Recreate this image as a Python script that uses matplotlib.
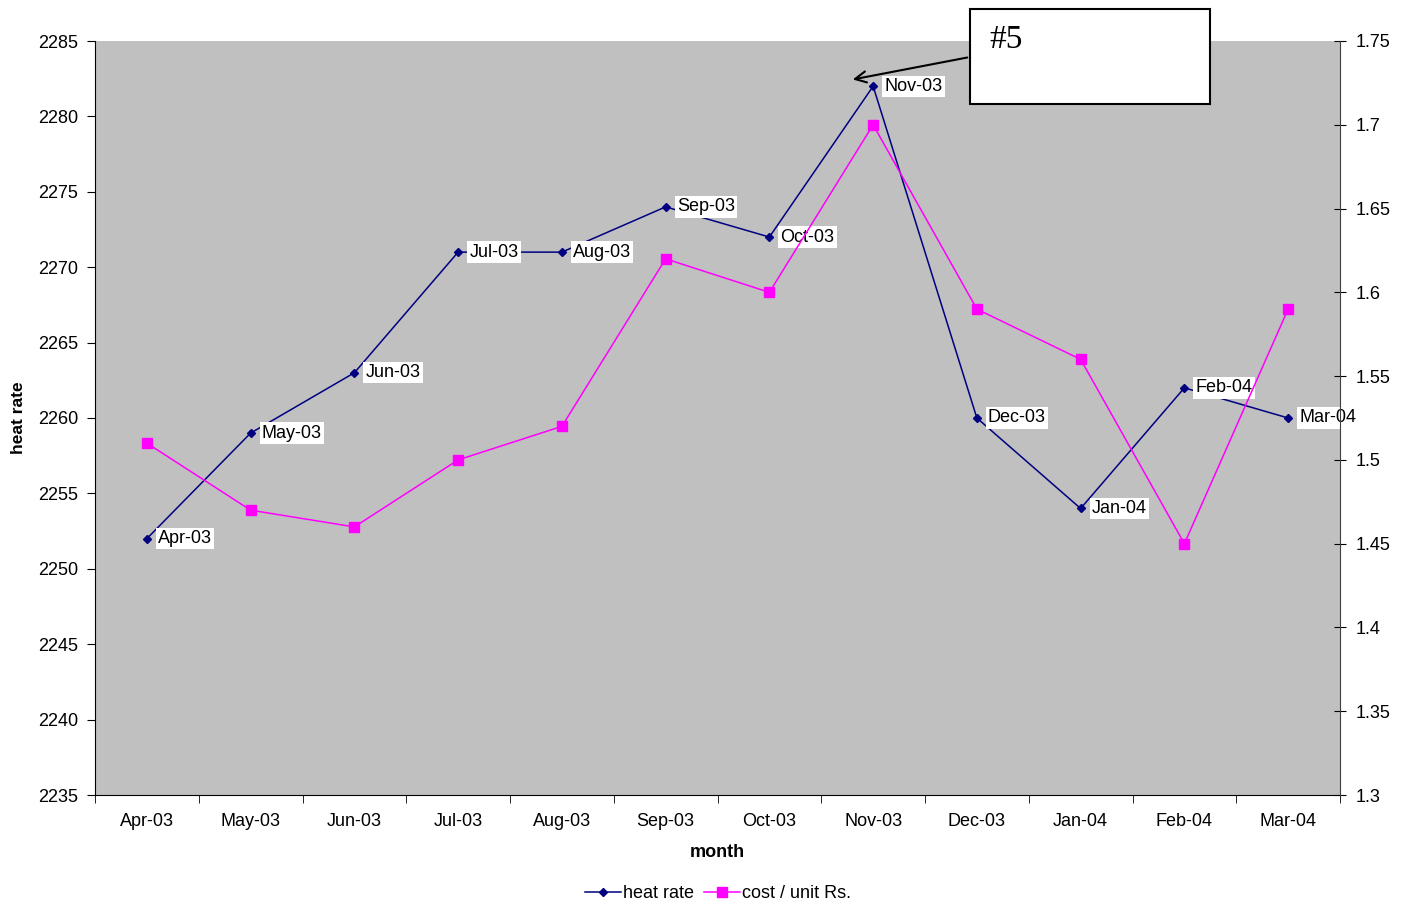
import numpy as np
import matplotlib
matplotlib.use("Agg")
import matplotlib.pyplot as plt
from matplotlib.patches import Rectangle

plt.rcParams['font.family'] = ['Liberation Sans', 'DejaVu Sans']

# data
months = ['Apr-03', 'May-03', 'Jun-03', 'Jul-03', 'Aug-03', 'Sep-03',
          'Oct-03', 'Nov-03', 'Dec-03', 'Jan-04', 'Feb-04', 'Mar-04']
heat_rate = [2252, 2259, 2263, 2271, 2271, 2274, 2272, 2282, 2260, 2254, 2262, 2260]
cost_unit = [1.51, 1.47, 1.46, 1.50, 1.52, 1.62, 1.60, 1.70, 1.59, 1.56, 1.45, 1.59]

fig = plt.figure(figsize=(14.09, 9.07), dpi=100)
ax = fig.add_axes([95 / 1409, 1 - 795 / 907, 1245 / 1409, 754 / 907])
ax.set_facecolor('#C0C0C0')
x = np.arange(len(months))

l1, = ax.plot(x, heat_rate, color='#000080', lw=1.1, marker='D', ms=4.5,
              label='heat rate', zorder=3)
ax.set_xlim(-0.5, len(months) - 0.5)
ax.set_ylim(2235, 2285)
ax.set_yticks(np.arange(2235, 2286, 5))
ax.set_xticks(x)
ax.set_xticklabels(months)
ax.set_xticks(np.arange(-0.5, len(months), 1), minor=True)
ax.tick_params(axis='x', which='major', length=0, pad=13, labelsize=13)
ax.tick_params(axis='x', which='minor', length=6, direction='out')
ax.tick_params(axis='y', length=6, direction='out', labelsize=13, pad=6)
ax.spines['top'].set_visible(False)
ax.spines['right'].set_visible(False)

for xi, yi, lab in zip(x, heat_rate, months):
    ax.annotate(lab, (xi, yi), xytext=(8, 0), textcoords='offset points',
                ha='left', va='center', fontsize=13, zorder=4,
                bbox=dict(fc='white', ec='none', pad=1.5))

ax2 = ax.twinx()
l2, = ax2.plot(x, cost_unit, color='#FF00FF', lw=1.1, marker='s', ms=6.5,
               label='cost / unit Rs.', zorder=3)
ax2.set_ylim(1.3, 1.75)
ax2.set_yticks(np.arange(1.3, 1.751, 0.05))
ax2.set_yticklabels(['1.3', '1.35', '1.4', '1.45', '1.5', '1.55', '1.6',
                     '1.65', '1.7', '1.75'])
ax2.tick_params(axis='y', length=8, direction='inout', labelsize=13, pad=7)
ax2.spines['top'].set_visible(False)
ax2.spines['left'].set_visible(False)
ax2.spines['bottom'].set_visible(False)
ax2.spines['right'].set_color('#404040')

ax.set_ylabel('heat rate', fontweight='bold', fontsize=12.5, labelpad=9)
ax.set_xlabel('month', fontweight='bold', fontsize=13, labelpad=10)

fig.legend([l1, l2], ['heat rate', 'cost / unit Rs.'], loc='center',
           bbox_to_anchor=(718 / 1409, 1 - 894 / 907), ncol=2, frameon=False,
           fontsize=13, handlelength=2.0, handletextpad=0.15, columnspacing=0.5)

# callout box "#5" with arrow to Nov-03
fig.patches.append(Rectangle((970 / 1409, 1 - 104 / 907), 240 / 1409, 95 / 907,
                             transform=fig.transFigure, fc='white', ec='black',
                             lw=1.5, zorder=10))
fig.text(989 / 1409, 1 - 40 / 907, '#5', family='Liberation Serif',
         fontsize=24, va='center', ha='left', zorder=11)
ax.annotate('', xy=(850 / 1409, 1 - 80 / 907), xycoords='figure fraction',
            xytext=(970 / 1409, 1 - 57 / 907), textcoords='figure fraction',
            arrowprops=dict(arrowstyle='->', color='black', lw=1.5,
                            mutation_scale=20))

fig.savefig('out.png', dpi=100)
